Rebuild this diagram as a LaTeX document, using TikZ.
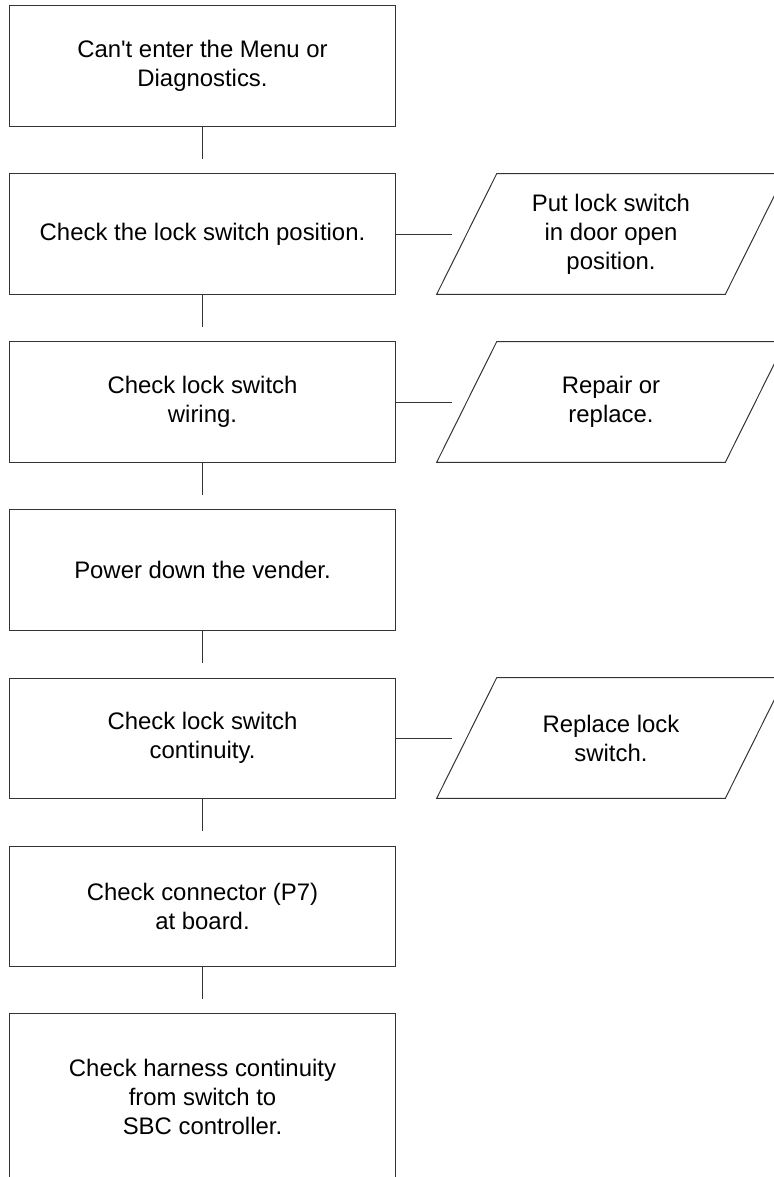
\documentclass[tikz,border=0pt]{standalone}
\usepackage{fontspec}
\setmainfont{Liberation Sans}

\begin{document}
\begin{tikzpicture}[x=0.025cm, y=-0.025cm,
  every node/.style={font=\fontsize{17pt}{20.6pt}\selectfont, align=center},
  stepbox/.style={draw=black!80, line width=0.7pt, minimum width=9.625cm, minimum height=3cm, inner sep=0pt},
  fixbox/.style={minimum width=7.2cm, minimum height=3cm, inner sep=0pt},
  link/.style={draw=black!80, line width=0.7pt}]

\clip (0,0) rectangle (774,1177);

\node[stepbox] (menu) at (202.5, 66) {Can\textquotesingle t enter the Menu or\\Diagnostics.};
\node[stepbox] (lockpos) at (202.5, 234) {Check the lock switch position.};
\node[stepbox] (wiring) at (202.5, 402) {Check lock switch\\wiring.};
\node[stepbox] (power) at (202.5, 570) {Power down the vender.};
\node[stepbox] (contin) at (202.5, 738) {Check lock switch\\continuity.};
\node[stepbox] (conn) at (202.5, 906) {Check connector (P7)\\at board.};
\node[stepbox, minimum height=4.15cm] (harness) at (202.5, 1097) {Check harness continuity\\from switch to\\SBC controller.};

\node[fixbox] (putopen) at (611, 234) {Put lock switch\\in door open\\position.};
\node[fixbox] (repair) at (611, 402) {Repair or\\replace.};
\node[fixbox] (replace) at (611, 738) {Replace lock\\switch.};

% slanted outline round each fix
\foreach \n in {putopen, repair, replace}
  \draw[link] ([xshift=-0.75cm]\n.south west) -- ([xshift=-0.75cm]\n.south east)
    -- ([xshift=0.75cm]\n.north east) -- ([xshift=0.75cm]\n.north west) -- cycle;

% down the chain
\draw[link, shorten >=0.35cm] (menu.south) -- (lockpos.north);
\draw[link, shorten >=0.35cm] (lockpos.south) -- (wiring.north);
\draw[link, shorten >=0.35cm] (wiring.south) -- (power.north);
\draw[link, shorten >=0.35cm] (power.south) -- (contin.north);
\draw[link, shorten >=0.35cm] (contin.south) -- (conn.north);
\draw[link, shorten >=0.35cm] (conn.south) -- (harness.north);

% fixes on the right
\draw[link, shorten >=0.375cm] (lockpos.east) -- (putopen.west);
\draw[link, shorten >=0.375cm] (wiring.east) -- (repair.west);
\draw[link, shorten >=0.375cm] (contin.east) -- (replace.west);

\end{tikzpicture}
\end{document}
